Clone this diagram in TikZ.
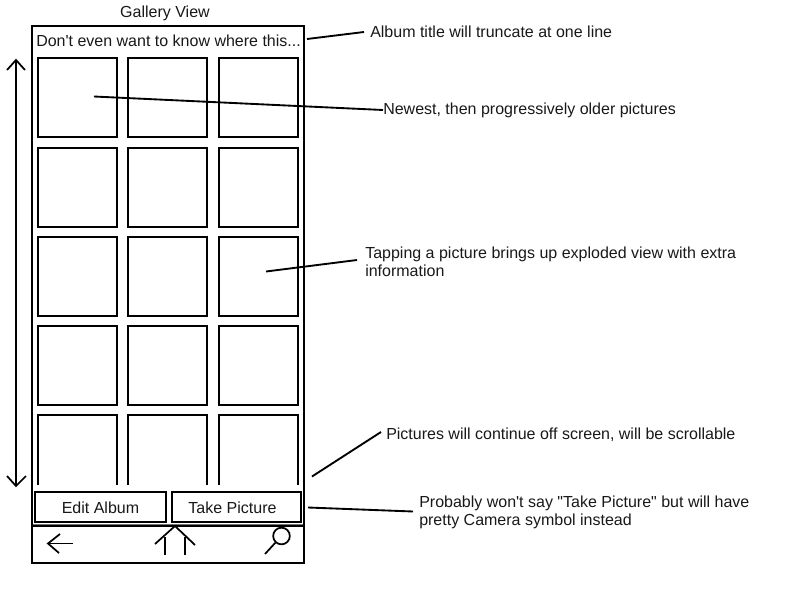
\documentclass[tikz,border=0pt]{standalone}
\usepackage{fontspec}
\setmainfont{Liberation Sans}[Ligatures=TeXOff]
\begin{document}
\begin{tikzpicture}[x=0.75pt,y=-0.75pt,
  ink/.style={draw=black,line width=1.5pt},
  thin ink/.style={draw=black,line width=1.3pt},
  leader/.style={draw=black,line width=1.4pt},
  tile/.style={ink,inner sep=0pt,minimum width=59.25pt,minimum height=59.25pt},
  btn/.style={ink,inner sep=0pt,minimum height=22.5pt},
  lbl/.style={inner sep=0pt,anchor=west,align=left,font=\fontsize{12}{13.5}\selectfont,text=black!90}]
\useasboundingbox (0,0) rectangle (800,600);
\fill[white] (0,0) rectangle (800,600);
\node[ink,inner sep=0pt,minimum width=204pt,minimum height=402.75pt] (frame) at (168,294.5) {};
\node[lbl,anchor=center] (title) at (165,13) {Gallery View};
\node[lbl] (album) at (36,41) {Don't even want to know where this...};
% tiles
\node[tile] (a1) at (77.5,97.5) {};
\node[tile] (b1) at (167.5,97.5) {};
\node[tile] (c1) at (258.5,97.5) {};
\node[tile] (a2) at (77.5,187.5) {};
\node[tile] (b2) at (167.5,187.5) {};
\node[tile] (c2) at (258.5,187.5) {};
\node[tile] (a3) at (77.5,276.5) {};
\node[tile] (b3) at (167.5,276.5) {};
\node[tile] (c3) at (258.5,276.5) {};
\node[tile] (a4) at (77.5,365.5) {};
\node[tile] (b4) at (167.5,365.5) {};
\node[tile] (c4) at (258.5,365.5) {};
% cut-off tiles
\draw[ink] (38,485) -- (38,415) -- (117,415) -- (117,485);
\draw[ink] (128,485) -- (128,415) -- (207,415) -- (207,485);
\draw[ink] (219,485) -- (219,415) -- (298,415) -- (298,485);
% buttons
\node[btn,minimum width=98.25pt,font=\fontsize{12}{14}\selectfont,text=black!90] (edit) at (100.5,507) {\rule{0pt}{10.5pt}Edit Album};
\node[btn,minimum width=96.75pt,font=\fontsize{12}{14}\selectfont,text=black!90] (take) at (236.5,507) {\rule{0pt}{10.5pt}Take Picture\kern6pt};
% divider
\draw[draw=black!55,line width=0.75pt] (33,524) -- (303,524);
\draw[ink] (32,526) -- (304,526);
% scroll arrow
\draw[thin ink] (16,61) -- (16,485);
\draw[thin ink,line join=miter] (7,70) -- (16,60) -- (25,70);
\draw[thin ink,line join=miter] (7,476) -- (16,486) -- (26,476);
% back icon
\draw[thin ink] (73,543.5) -- (48,543.5);
\draw[thin ink] (60,534) -- (48,543.5) -- (59,553);
% home icon
\draw[thin ink] (155,544) -- (175,526) -- (195,545);
\draw[ink] (164.5,537) -- (164.5,555);
\draw[ink] (184.5,537) -- (184.5,555);
% search icon
\node[thin ink,circle,inner sep=0pt,minimum size=12.5pt] (lens) at (281.5,536) {};
\coordinate (hdl) at (265,554);
\draw[thin ink] (lens) -- (hdl);
% annotations
\node[lbl] (n1) at (370,31.5) {Album title will truncate at one line};
\node[lbl] (n2) at (383,110.5) {Newest, then progressively older pictures};
\node[lbl] (n3) at (365,261.5) {Tapping a picture brings up exploded view with extra\\information};
\node[lbl] (n4) at (386,434.5) {Pictures will continue off screen, will be scrollable};
\node[lbl] (n5) at (419,512.5) {Probably won't say "Take Picture" but will have\\pretty Camera symbol instead};
% leaders
\coordinate (l1a) at (307,39); \coordinate (l1b) at (364,32);
\coordinate (l2a) at (94,96.5); \coordinate (l2b) at (383,110);
\coordinate (l3a) at (266,271.5); \coordinate (l3b) at (357,260);
\coordinate (l4a) at (312,476.5); \coordinate (l4b) at (381,432);
\coordinate (l5a) at (308,507.5); \coordinate (l5b) at (413,511.5);
\draw[leader] (l1a) -- (l1b);
\draw[leader] (l2a) -- (l2b);
\draw[leader] (l3a) -- (l3b);
\draw[leader] (l4a) -- (l4b);
\draw[leader] (l5a) -- (l5b);
\end{tikzpicture}
\end{document}
